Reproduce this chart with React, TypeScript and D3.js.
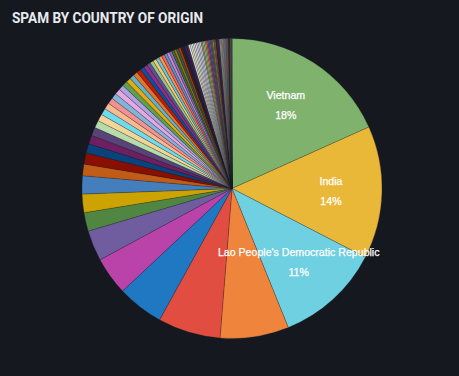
import React from "react";
import * as d3 from "d3";

const W = 459;
const H = 376;
const BG = "#161820";
const TITLE = "SPAM BY COUNTRY OF ORIGIN";

const countries = [
  "Vietnam", "India", "Lao People's Democratic Republic", "China", "Brazil", "United States",
  "Indonesia", "Russian Federation", "Thailand", "Iran", "Pakistan", "Bangladesh", "Philippines",
  "Mexico", "Argentina", "Colombia", "Turkey",
  "Ukraine", "Egypt", "Korea, Republic of", "Malaysia", "Cambodia", "Germany", "France", "Italy",
  "Spain", "Poland", "Romania", "Venezuela", "Peru", "Chile", "South Africa", "Nigeria", "Kazakhstan",
  "Algeria", "Morocco", "Saudi Arabia", "Iraq", "Ecuador", "Japan", "Taiwan", "Netherlands",
  "United Kingdom", "Bulgaria", "Serbia", "Nepal", "Sri Lanka", "Myanmar",
  "Belarus", "Hungary", "Czechia", "Greece", "Israel", "Canada", "Australia", "Kenya",
  "Tunisia", "Uzbekistan", "Georgia", "Armenia", "Moldova", "Lithuania", "Latvia", "Estonia",
  "Bolivia", "Paraguay", "Uruguay", "Dominican Republic", "Guatemala", "Honduras", "El Salvador",
  "Costa Rica", "Panama", "Jordan", "Lebanon", "United Arab Emirates", "Kuwait", "Qatar", "Oman",
  "Syria", "Yemen", "Afghanistan", "Mongolia", "Singapore", "Hong Kong", "Portugal", "Sweden",
  "Belgium", "Austria", "Switzerland", "Ghana", "Ethiopia", "Tanzania", "Senegal", "Cameroon",
];

const shares = [
  18.3, 14.3, 11.3, 7.4, 6.75, 5.0, 4.1, 3.3, 2.0, 2.0, 1.95, 1.25, 1.2, 1.0, 0.95, 0.9, 0.8,
  0.75, 0.72, 0.68, 0.65, 0.62, 0.6, 0.57, 0.55, 0.52, 0.5, 0.48, 0.46, 0.44, 0.42, 0.4, 0.38,
  0.36, 0.34, 0.33, 0.32, 0.3, 0.29, 0.28, 0.27, 0.26, 0.25, 0.24, 0.23, 0.22, 0.21, 0.2,
  0.19, 0.18, 0.18, 0.17, 0.17, 0.17, 0.16, 0.16,
  0.16, 0.15, 0.15, 0.14, 0.14, 0.13, 0.13, 0.12, 0.12, 0.12, 0.11, 0.11, 0.11, 0.1, 0.1, 0.1,
  0.1, 0.09, 0.09, 0.09, 0.08, 0.08, 0.08, 0.07, 0.07, 0.07, 0.06, 0.06, 0.05, 0.05, 0.05, 0.04,
  0.04, 0.04, 0.03, 0.03, 0.03, 0.02, 0.02,
];

const palette = [
  "#7EB26D", "#EAB839", "#6ED0E0", "#EF843C", "#E24D42", "#1F78C1", "#BA43A9", "#705DA0",
  "#508642", "#CCA300", "#447EBC", "#C15C17", "#890F02", "#0A437C", "#6D1F62", "#584477",
  "#B7DBAB", "#F4D598", "#70DBED", "#F9BA8F", "#F29191", "#82B5D8", "#E5A8E2", "#AEA2E0",
  "#629E51", "#E5AC0E", "#64B0C8", "#E0752D", "#BF1B00", "#0A50A1", "#962D82", "#614D93",
  "#9AC48A", "#F2C96D", "#65C5DB", "#F9934E", "#EA6460", "#5195CE", "#D683CE", "#806EB7",
  "#3F6833", "#967302", "#2F575E", "#99440A", "#58140C", "#052B51", "#511749", "#3F2B5B",
  "#E0F9D7", "#FCEACA", "#CFFAFF", "#F9E2D2", "#FCE2DE", "#BADFF4", "#F9D9F9", "#DEDAF7",
];

const LABEL_MIN_PCT = 10;

export default function App() {
  const cx = 232;
  const cy = 188.5;
  const R = 150;
  const data = countries.map((name, i) => ({
    name,
    value: shares[i],
    color: palette[i % palette.length],
  }));
  const total = d3.sum(shares);
  const arcs = d3.pie<any>().sort(null).value((d: any) => d.value)(data);
  const arcGen = d3.arc<any>().innerRadius(0).outerRadius(R);
  const labelArc = d3.arc<any>().innerRadius(R * 0.66).outerRadius(R * 0.66);

  return (
    <div style={{ position: "fixed", left: 0, top: 0, width: W, height: H, background: BG }}>
      <svg width={W} height={H} style={{ display: "block" }}>
        <rect x={0} y={0} width={W} height={H} fill={BG} />
        <text
          x={12}
          y={23.3}
          fill="#e8eaed"
          fontFamily="Roboto, 'Liberation Sans', sans-serif"
          fontWeight={700}
          fontSize={14}
          textLength={191}
          lengthAdjust="spacingAndGlyphs"
        >
          {TITLE}
        </text>
        <g transform={`translate(${cx},${cy})`}>
          {arcs.map((a: any, i: number) => (
            <path key={i} d={arcGen(a) as string} fill={a.data.color} stroke={BG} strokeWidth={0.3} strokeOpacity={0.8} />
          ))}
          {arcs
            .filter((a: any) => (a.data.value / total) * 100 >= LABEL_MIN_PCT)
            .map((a: any, i: number) => {
              const [lx, ly] = labelArc.centroid(a);
              const pct = Math.round((a.data.value / total) * 100);
              return (
                <g key={"l" + i} fontFamily="'Liberation Sans', Arial, sans-serif" fontSize={10.6} fontWeight={400} fill="#ffffff" textAnchor="middle" stroke="#ffffff" strokeWidth={0.25}>
                  <text x={lx} y={ly - 10} dominantBaseline="central">{a.data.name}</text>
                  <text x={lx} y={ly + 10} dominantBaseline="central">{pct + "%"}</text>
                </g>
              );
            })}
        </g>
      </svg>
    </div>
  );
}
